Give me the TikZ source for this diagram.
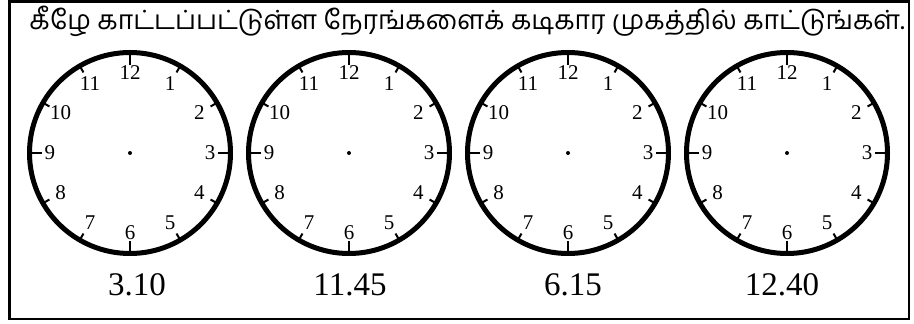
\documentclass[tikz,border=0pt]{standalone}
\usepackage{fontspec}
\setmainfont{Liberation Serif}
\newfontfamily\tamilfont[Script=Tamil]{Hind Madurai}
\usetikzlibrary{positioning}

\begin{document}
\begin{tikzpicture}[
        x=1pt, y=1pt,
        frame/.style={draw, line width=2.5pt},
        dial/.style={draw, line width=5pt},
        hourtick/.style={draw, line width=2pt},
        hournum/.style={inner sep=0pt, font=\fontsize{21}{21}\selectfont},
        timelabel/.style={inner sep=0pt, anchor=base, font=\fontsize{33}{33}\selectfont},
        heading/.style={inner sep=0pt, anchor=base, font=\tamilfont\fontsize{26.5}{26.5}\selectfont},
    ]
        \useasboundingbox (0,0) rectangle (914,-324);
        \draw[frame] (9.5,-1.5) rectangle (909,-319);

        \node[heading] (head) at (467,-29) {கீழே காட்டப்பட்டுள்ள நேரங்களைக் கடிகார முகத்தில் காட்டுங்கள்.};

        % the four clock faces
        \foreach \cx [count=\i] in {130, 349, 568, 787} {
            \coordinate (c\i) at (\cx,-153);
            \draw[dial] (c\i) circle (100.5);
            \fill (c\i) circle (2);
            \foreach \h in {1,...,12} {
                \pgfmathsetmacro\ang{90-30*\h}
                \pgfmathsetmacro\rin{ifthenelse(mod(\h,3)==0,88,93)}
                \draw[hourtick, shift={(c\i)}] (\ang:\rin) -- (\ang:100);
                \node[hournum] (n\i-\h) at ([shift={(\ang:80)}]c\i) {\h};
            }
        }

        \node[timelabel] (t1) at (137,-295) {3.10};
        \node[timelabel] (t2) at (350,-295) {11.45};
        \node[timelabel] (t3) at (573,-295) {6.15};
        \node[timelabel] (t4) at (782,-295) {12.40};
    \end{tikzpicture}
\end{document}
